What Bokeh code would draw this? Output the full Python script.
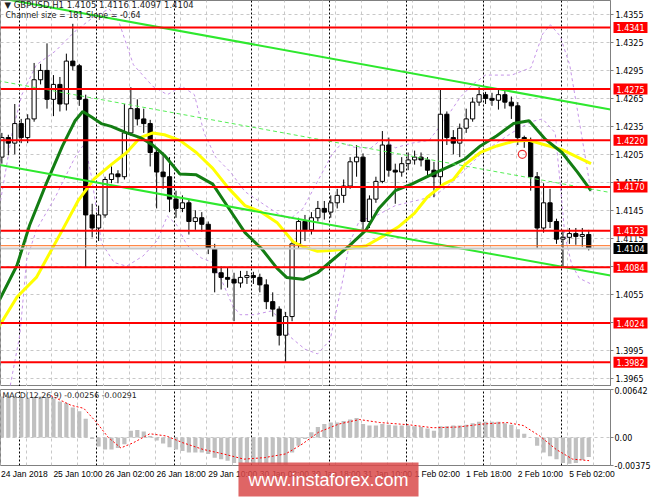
from bokeh.plotting import figure
from bokeh.models import (Range1d, FixedTicker, Span, Label, Grid, ColumnDataSource,
                          PrintfTickFormatter)
from bokeh.layouts import column
from bokeh.embed import file_html
from bokeh.resources import INLINE

# ---------------- data (GBPUSD, 2-hour candles) ----------------
first_open = 1.4202
closes = [1.4223, 1.4217, 1.4238, 1.4223, 1.4243, 1.4285, 1.4295, 1.4264, 1.4280, 1.4259,
          1.4305, 1.4300, 1.4264, 1.4140, 1.4126, 1.4140, 1.4178, 1.4184, 1.4181, 1.4228,
          1.4254, 1.4243, 1.4238, 1.4207, 1.4186, 1.4181, 1.4157, 1.4147, 1.4153, 1.4133,
          1.4137, 1.4130, 1.4104, 1.4078, 1.4073, 1.4071, 1.4067, 1.4073, 1.4075, 1.4073,
          1.4065, 1.4047, 1.4039, 1.4011, 1.4031, 1.4109, 1.4133, 1.4124, 1.4137, 1.4147,
          1.4143, 1.4153, 1.4161, 1.4171, 1.4197, 1.4202, 1.4133, 1.4157, 1.4176, 1.4215,
          1.4188, 1.4186, 1.4195, 1.4199, 1.4202, 1.4199, 1.4188, 1.4181, 1.4248, 1.4223,
          1.4217, 1.4233, 1.4243, 1.4261, 1.4269, 1.4265, 1.4263, 1.4269, 1.4261, 1.4257,
          1.4223, 1.4219, 1.4181, 1.4126, 1.4153, 1.4133, 1.4114, 1.4116, 1.4120, 1.4117,
          1.4119, 1.4104]
highs = [1.4228, 1.4226, 1.4259, 1.4243, 1.4248, 1.4303, 1.4302, 1.4324, 1.4290, 1.4288,
         1.4313, 1.4345, 1.4302, 1.4269, 1.4152, 1.4150, 1.4181, 1.4192, 1.4188, 1.4259,
         1.4277, 1.4264, 1.4254, 1.4242, 1.4212, 1.4207, 1.4202, 1.4166, 1.4161, 1.4157,
         1.4145, 1.4143, 1.4133, 1.4109, 1.4085, 1.4083, 1.4078, 1.4080, 1.4080, 1.4079,
         1.4077, 1.4071, 1.4057, 1.4042, 1.4036, 1.4114, 1.4137, 1.4140, 1.4143, 1.4155,
         1.4155, 1.4161, 1.4168, 1.4178, 1.4202, 1.4215, 1.4206, 1.4161, 1.4181, 1.4230,
         1.4223, 1.4195, 1.4202, 1.4207, 1.4209, 1.4207, 1.4202, 1.4197, 1.4276, 1.4251,
         1.4231, 1.4238, 1.4254, 1.4266, 1.4277, 1.4272, 1.4271, 1.4274, 1.4273, 1.4267,
         1.4261, 1.4225, 1.4223, 1.4186, 1.4174, 1.4168, 1.4136, 1.4124, 1.4126, 1.4126,
         1.4126, 1.4124]
lows = [1.4195, 1.4204, 1.4205, 1.4217, 1.4217, 1.4240, 1.4280, 1.4254, 1.4246, 1.4251,
        1.4252, 1.4295, 1.4257, 1.4083, 1.4116, 1.4112, 1.4137, 1.4174, 1.4174, 1.4178,
        1.4225, 1.4236, 1.4228, 1.4192, 1.4147, 1.4168, 1.4143, 1.4137, 1.4143, 1.4119,
        1.4124, 1.4122, 1.4098, 1.4057, 1.4060, 1.4062, 1.4026, 1.4062, 1.4066, 1.4066,
        1.4057, 1.4039, 1.4031, 1.4000, 1.3982, 1.4026, 1.4104, 1.4112, 1.4119, 1.4133,
        1.4135, 1.4137, 1.4147, 1.4153, 1.4168, 1.4181, 1.4124, 1.4126, 1.4153, 1.4174,
        1.4181, 1.4152, 1.4181, 1.4188, 1.4194, 1.4192, 1.4181, 1.4159, 1.4171, 1.4215,
        1.4205, 1.4202, 1.4228, 1.4240, 1.4257, 1.4259, 1.4257, 1.4253, 1.4254, 1.4243,
        1.4215, 1.4212, 1.4166, 1.4104, 1.4121, 1.4126, 1.4109, 1.4083, 1.4109, 1.4108,
        1.4106, 1.4102]

# moving averages (hour index, price)
green_h = [-0.8, 5.2, 9.1, 14.2, 19.3, 23.2, 25.6, 28.3, 31.3, 34.4, 39.2, 43.4, 47.3, 50.9,
           55.7, 60.8, 65.9, 70.7, 75.9, 81.0, 85.8, 88.8, 93.9, 98.4, 103.5, 108.3, 113.5,
           117.4, 122.5, 127.6, 132.4, 135.4, 140.5, 144.1, 148.9, 154.0, 159.2, 164.0,
           169.1, 174.2, 179.0, 183.2]
green_p = [1.4045, 1.4086, 1.4129, 1.4173, 1.4214, 1.4241, 1.4251, 1.4245, 1.4238, 1.4235,
           1.4228, 1.4223, 1.4215, 1.4204, 1.4184, 1.4183, 1.4173, 1.4148, 1.4121, 1.4104,
           1.4083, 1.4073, 1.4071, 1.4078, 1.4093, 1.4107, 1.4124, 1.4147, 1.4166, 1.4173,
           1.4181, 1.4186, 1.4194, 1.4200, 1.4214, 1.4225, 1.4238, 1.4241, 1.4221, 1.4207,
           1.4186, 1.4166]
yellow_h = [-0.8, 5.2, 11.2, 19.3, 24.1, 29.2, 34.4, 39.2, 43.4, 47.3, 50.9, 55.7, 60.8,
            65.9, 70.7, 75.9, 81.0, 85.8, 90.9, 93.9, 98.4, 103.5, 108.3, 113.5, 118.6,
            123.4, 128.5, 132.4, 137.5, 140.5, 144.1, 148.9, 154.0, 159.2, 164.0, 169.1,
            174.2, 179.0, 183.2]
yellow_p = [1.4018, 1.4052, 1.4073, 1.4124, 1.4155, 1.4179, 1.4194, 1.4207, 1.4223, 1.4228,
            1.4226, 1.4220, 1.4207, 1.4190, 1.4169, 1.4150, 1.4143, 1.4132, 1.4111, 1.4106,
            1.4101, 1.4102, 1.4104, 1.4107, 1.4117, 1.4127, 1.4142, 1.4159, 1.4173, 1.4178,
            1.4194, 1.4207, 1.4214, 1.4219, 1.4220, 1.4215, 1.4210, 1.4202, 1.4195]

# bands
bbu_h = [0.08, 3.7, 6.7, 11.2, 17.2, 23.2, 29.2, 33.8, 36.8, 41.3, 47.3, 51.8, 56.3, 60.2,
         63.2, 66.8, 71.4, 75.9, 81.0, 85.8, 90.0, 93.9, 98.4, 102.9, 105.9, 110.4, 115.0,
         118.6, 122.5, 127.6, 133.0, 138.1, 142.6, 146.5, 150.5, 158.6, 164.6, 168.2,
         170.6, 173.6, 176.6, 179.6, 183.2]
bbu_p = [1.4155, 1.4228, 1.4269, 1.4301, 1.4316, 1.4337, 1.4353, 1.4361, 1.4347, 1.4301,
         1.4278, 1.4269, 1.4278, 1.4269, 1.4228, 1.4202, 1.4186, 1.4165, 1.4153, 1.4142,
         1.4136, 1.4147, 1.4176, 1.4205, 1.4217, 1.4212, 1.4212, 1.4222, 1.4212, 1.4217,
         1.4220, 1.4243, 1.4266, 1.4280, 1.4290, 1.4290, 1.4298, 1.4334, 1.4344, 1.4332,
         1.4301, 1.4240, 1.4165]
bbl_h = [3.1, 6.1, 8.2, 11.2, 17.2, 23.2, 26.2, 28.3, 31.4, 35.3, 39.2, 44.3, 48.8, 51.8,
         54.8, 57.8, 62.3, 65.9, 68.9, 72.0, 74.4, 78.9, 84.0, 86.4, 90.0, 94.5, 98.4, 102.3,
         104.4, 106.5, 108.3, 111.4, 116.5, 122.5, 128.5, 134.5, 140.5, 149.5, 158.6,
         164.6, 168.2, 172.1, 173.6, 175.1, 177.2, 179.6, 183.2]
bbl_p = [1.3957, 1.4012, 1.4092, 1.4124, 1.4160, 1.4202, 1.4217, 1.4181, 1.4110, 1.4089,
         1.4085, 1.4096, 1.4113, 1.4139, 1.4129, 1.4108, 1.4094, 1.4089, 1.4068, 1.4043,
         1.4033, 1.4033, 1.4037, 1.4030, 1.4009, 1.3996, 1.3991, 1.4006, 1.4040, 1.4075,
         1.4110, 1.4134, 1.4139, 1.4150, 1.4155, 1.4160, 1.4176, 1.4207, 1.4228, 1.4240,
         1.4243, 1.4228, 1.4176, 1.4118, 1.4087, 1.4072, 1.4066]

# regression channel
chan_h = [-0.83, 189.25]
chan_upper = [1.4373, 1.4253]
chan_mid = [1.4284, 1.4164]
chan_lower = [1.4194, 1.4075]

# horizontal levels and current quotes
levels = [1.4341, 1.4275, 1.4220, 1.4170, 1.4123, 1.4084, 1.4024, 1.3982]
bid = 1.4104
ask = 1.4107
mark_h = [161.9]
mark_p = [1.4205]

price_ticks = [1.3965, 1.3995, 1.4025, 1.4055, 1.4085, 1.4115, 1.4145, 1.4175, 1.4205,
               1.4235, 1.4265, 1.4295, 1.4325, 1.4355]

# MACD
macd_hist = [0.0055, 0.0056, 0.0055, 0.0054, 0.0053, 0.0054, 0.0055, 0.0054, 0.0052, 0.0048,
             0.0046, 0.0040, 0.0035, 0.0025, -0.0002, -0.0012, -0.0016, -0.0016, -0.0014, -0.0009,
             0.0009, 0.0010, 0.0008, 0.0002, -0.0004, -0.0008, -0.0013, -0.0016, -0.0018, -0.0020,
             -0.0020, -0.0020, -0.0022, -0.0027, -0.0029, -0.0031, -0.0034, -0.0034, -0.0034, -0.0034,
             -0.0034, -0.0034, -0.0035, -0.0036, -0.0037, -0.0020, -0.0011, -0.0002, 0.0007, 0.0014,
             0.0018, 0.0020, 0.0020, 0.0022, 0.0024, 0.0026, 0.0018, 0.0016, 0.0016, 0.0018,
             0.0017, 0.0016, 0.0016, 0.0016, 0.0015, 0.0014, 0.0012, 0.0009, 0.0015, 0.0015,
             0.0016, 0.0016, 0.0017, 0.0019, 0.0021, 0.0021, 0.0021, 0.0021, 0.0019, 0.0017,
             0.0011, 0.0005, 0.0000, -0.0011, -0.0020, -0.0025, -0.0029, -0.0034, -0.0035, -0.0034,
             -0.0030, -0.0026]
sig_h = [15.7, 22.0, 25.9, 29.9, 33.5, 37.4, 41.3, 46.4, 51.5, 56.6, 62.9, 69.2, 75.6, 81.9,
         88.5, 93.6, 98.7, 105.0, 111.4, 117.7, 126.7, 134.2, 142.0, 149.6, 157.1, 162.2,
         167.3, 172.4, 177.5, 182.6]
sig_v = [0.0056, 0.0043, 0.0039, 0.0020, 0.0000, -0.0014, -0.0007, 0.0005, 0.0002, -0.0007,
         -0.0016, -0.0022, -0.0029, -0.0027, -0.0022, -0.0009, 0.0007, 0.0018, 0.0024, 0.0020,
         0.0017, 0.0013, 0.0014, 0.0018, 0.0020, 0.0016, 0.0002, -0.0016, -0.0029, -0.0031]
macd_ticks = [-0.00375, 0, 0.00642]
macd_tick_text = ["-0.00375", "0.00", "0.00642"]

# time axis
time_labels = ["24 Jan 2018", "25 Jan 10:00", "26 Jan 02:00", "26 Jan 18:00", "29 Jan 10:00",
               "30 Jan 02:00", "30 Jan 18:00", "31 Jan 10:00", "1 Feb 02:00", "1 Feb 18:00",
               "2 Feb 10:00", "5 Feb 02:00"]
label_hours = [0, 16, 32, 48, 64, 80, 96, 112, 128, 144, 160, 176]
day_hours = [6, 30, 54, 78, 102, 126, 150, 174]
grid_hours = list(range(0, 190, 8))

header1 = "\u25bc GBPUSD,H1  1.4105 1.4116 1.4097 1.4104"
header2 = "Channel size = 181 Slope = -0.64"
macd_title = "MACD(12,26,9) -0.00256 -0.00291"
watermark = "www.instaforex.com"

# ---------------- layout constants ----------------
FW, FH1, FH2 = 610, 386, 76
X0, X1 = 0.075, 189.25
PX_PER_H = FW / (X1 - X0)
FONT = "DejaVu Sans"
XFONT = "Liberation Sans"
GRID_C = "#c8c8c8"

opens = [first_open] + closes[:-1]
hours = [2 * k + 0.5 for k in range(len(closes))]
src = ColumnDataSource(dict(
    h=hours, lo=lows, hi=highs,
    top=[max(a, b) for a, b in zip(opens, closes)],
    bot=[min(a, b) for a, b in zip(opens, closes)],
    fill=["white" if c >= o else "black" for o, c in zip(opens, closes)],
))

xr = Range1d(X0, X1)
X_BOX = X1 + 3 / PX_PER_H   # just right of the frame

# ---------------- main price panel ----------------
p1 = figure(frame_width=FW, frame_height=FH1, x_range=xr, y_range=Range1d(1.3956, 1.4370),
            output_backend="svg", toolbar_location=None, x_axis_location=None,
            y_axis_location="right", min_border_left=0, min_border_right=39,
            min_border_top=0, min_border_bottom=0)
p1.outline_line_color = "#808080"
ax = p1.yaxis[0]
ax.ticker = FixedTicker(ticks=price_ticks)
ax.formatter = PrintfTickFormatter(format="%.4f")
ax.major_label_text_font_size = "8px"
ax.major_label_text_font = FONT
ax.major_label_text_color = "black"
ax.major_tick_out = 3
ax.major_tick_in = 0
ax.minor_tick_out = 0
ax.minor_tick_in = 0
ax.major_label_standoff = 2
ax.axis_line_color = "#808080"
ax.major_tick_line_color = "#808080"
p1.ygrid.ticker = FixedTicker(ticks=price_ticks)
p1.ygrid.grid_line_color = GRID_C
p1.ygrid.grid_line_dash = "3 3"
p1.add_layout(Grid(dimension=0, ticker=FixedTicker(ticks=grid_hours),
                   grid_line_color=GRID_C, grid_line_dash="3 3"))
p1.add_layout(Grid(dimension=0, ticker=FixedTicker(ticks=day_hours),
                   grid_line_color="black", grid_line_dash="2 2"))

BB_C = "#c594e8"
p1.line(bbu_h, bbu_p, color=BB_C, line_width=1, line_dash="3 3")
p1.line(bbl_h, bbl_p, color=BB_C, line_width=1, line_dash="3 3")

p1.segment(x0="h", y0="lo", x1="h", y1="hi", source=src, color="black", line_width=1)
p1.vbar(x="h", width=1.3, top="top", bottom="bot", fill_color="fill", line_color="black",
        line_width=1, source=src)

p1.line(yellow_h, yellow_p, color="#ffff00", line_width=3)
p1.line(green_h, green_p, color="#137d13", line_width=3)

p1.line(chan_h, chan_upper, color="#2ee82e", line_width=2)
p1.line(chan_h, chan_lower, color="#2ee82e", line_width=2)
p1.line(chan_h, chan_mid, color="#55ee55", line_width=1, line_dash="4 3")

p1.scatter(mark_h, mark_p, marker="circle", size=8, fill_color=None, line_color="#ee3333",
           line_width=1.2)

p1.add_layout(Span(location=bid, dimension="width", line_color="#c8c8c8", line_width=2))
p1.add_layout(Span(location=ask, dimension="width", line_color="#ff6a1a", line_width=1))
for v in levels:
    p1.add_layout(Span(location=v, dimension="width", line_color="#ff0000", line_width=2))

for v in levels:
    p1.add_layout(Label(x=X_BOX, y=v, x_units="data", y_units="data", text=f"{v:.4f}",
                        text_font=FONT, text_font_size="8px", text_color="white",
                        text_baseline="middle", background_fill_color="#ff0000",
                        padding=(3, 2)), "right")
p1.add_layout(Label(x=X_BOX, y=bid, x_units="data", y_units="data", text=f"{bid:.4f}",
                    text_font=FONT, text_font_size="8px", text_color="white",
                    text_baseline="middle", background_fill_color="black", padding=(3, 2)),
              "right")

p1.add_layout(Label(x=4, y=FH1 - 4, x_units="screen", y_units="screen", text=header1,
                    text_font=FONT, text_font_size="8.5px", text_color="#222222",
                    text_baseline="middle"))
p1.add_layout(Label(x=5, y=FH1 - 15, x_units="screen", y_units="screen", text=header2,
                    text_font=FONT, text_font_size="8px", text_color="#222222",
                    text_baseline="middle"))

# ---------------- MACD panel ----------------
p2 = figure(frame_width=FW, frame_height=FH2, x_range=xr,
            y_range=Range1d(macd_ticks[0], macd_ticks[-1]),
            output_backend="svg", toolbar_location=None, x_axis_location="below",
            y_axis_location="right", min_border_left=0, min_border_right=39,
            min_border_top=3, min_border_bottom=18)
p2.outline_line_color = "#808080"
ay = p2.yaxis[0]
ay.ticker = FixedTicker(ticks=macd_ticks)
ay.major_label_overrides = {t: s for t, s in zip(macd_ticks, macd_tick_text)}
ay.major_label_text_font_size = "8px"
ay.major_label_text_font = FONT
ay.major_label_text_color = "black"
ay.major_tick_out = 3
ay.major_tick_in = 0
ay.minor_tick_out = 0
ay.minor_tick_in = 0
ay.major_label_standoff = 1
ay.axis_line_color = "#808080"
ay.major_tick_line_color = "#808080"
p2.ygrid.ticker = FixedTicker(ticks=macd_ticks)
p2.ygrid.grid_line_color = GRID_C
p2.ygrid.grid_line_dash = "3 3"

label_ticks = [round(h + (len(t) * 4.2 / 2 + 1) / PX_PER_H, 1)
               for h, t in zip(label_hours, time_labels)]
axx = p2.xaxis[0]
axx.ticker = FixedTicker(ticks=label_ticks)
axx.major_label_overrides = {t: s for t, s in zip(label_ticks, time_labels)}
axx.major_label_text_font_size = "8.5px"
axx.major_label_text_font = XFONT
axx.major_label_text_color = "black"
axx.major_tick_out = 0
axx.major_tick_in = 0
axx.minor_tick_out = 0
axx.minor_tick_in = 0
axx.major_label_standoff = 3
axx.axis_line_color = None
p2.xgrid.visible = False
p2.add_layout(Grid(dimension=0, ticker=FixedTicker(ticks=grid_hours),
                   grid_line_color=GRID_C, grid_line_dash="3 3"))
p2.add_layout(Grid(dimension=0, ticker=FixedTicker(ticks=day_hours),
                   grid_line_color="black", grid_line_dash="2 2"))

p2.vbar(x=hours, top=macd_hist, bottom=0, width=1.3, fill_color="#c0c0c0", line_color=None)
p2.line(sig_h, sig_v, color="#ff0000", line_width=1, line_dash="2 2")

p2.add_layout(Label(x=2, y=FH2 - 6, x_units="screen", y_units="screen", text=macd_title,
                    text_font=FONT, text_font_size="7.8px", text_color="#222222",
                    text_baseline="middle"))
WM_X = X0 + 328 / PX_PER_H
WM_Y = macd_ticks[0] - 14 * (macd_ticks[-1] - macd_ticks[0]) / FH2
p2.add_layout(Label(x=WM_X, y=WM_Y, x_units="data", y_units="data", text=watermark,
                    text_font="Liberation Sans", text_font_size="18px", text_color="white",
                    text_align="center", text_baseline="middle",
                    background_fill_color="#d94a4a", background_fill_alpha=0.85,
                    padding=(10, 7)), "below")

layout = column(p1, p2)
open("out.html", "w").write(file_html(layout, INLINE))
